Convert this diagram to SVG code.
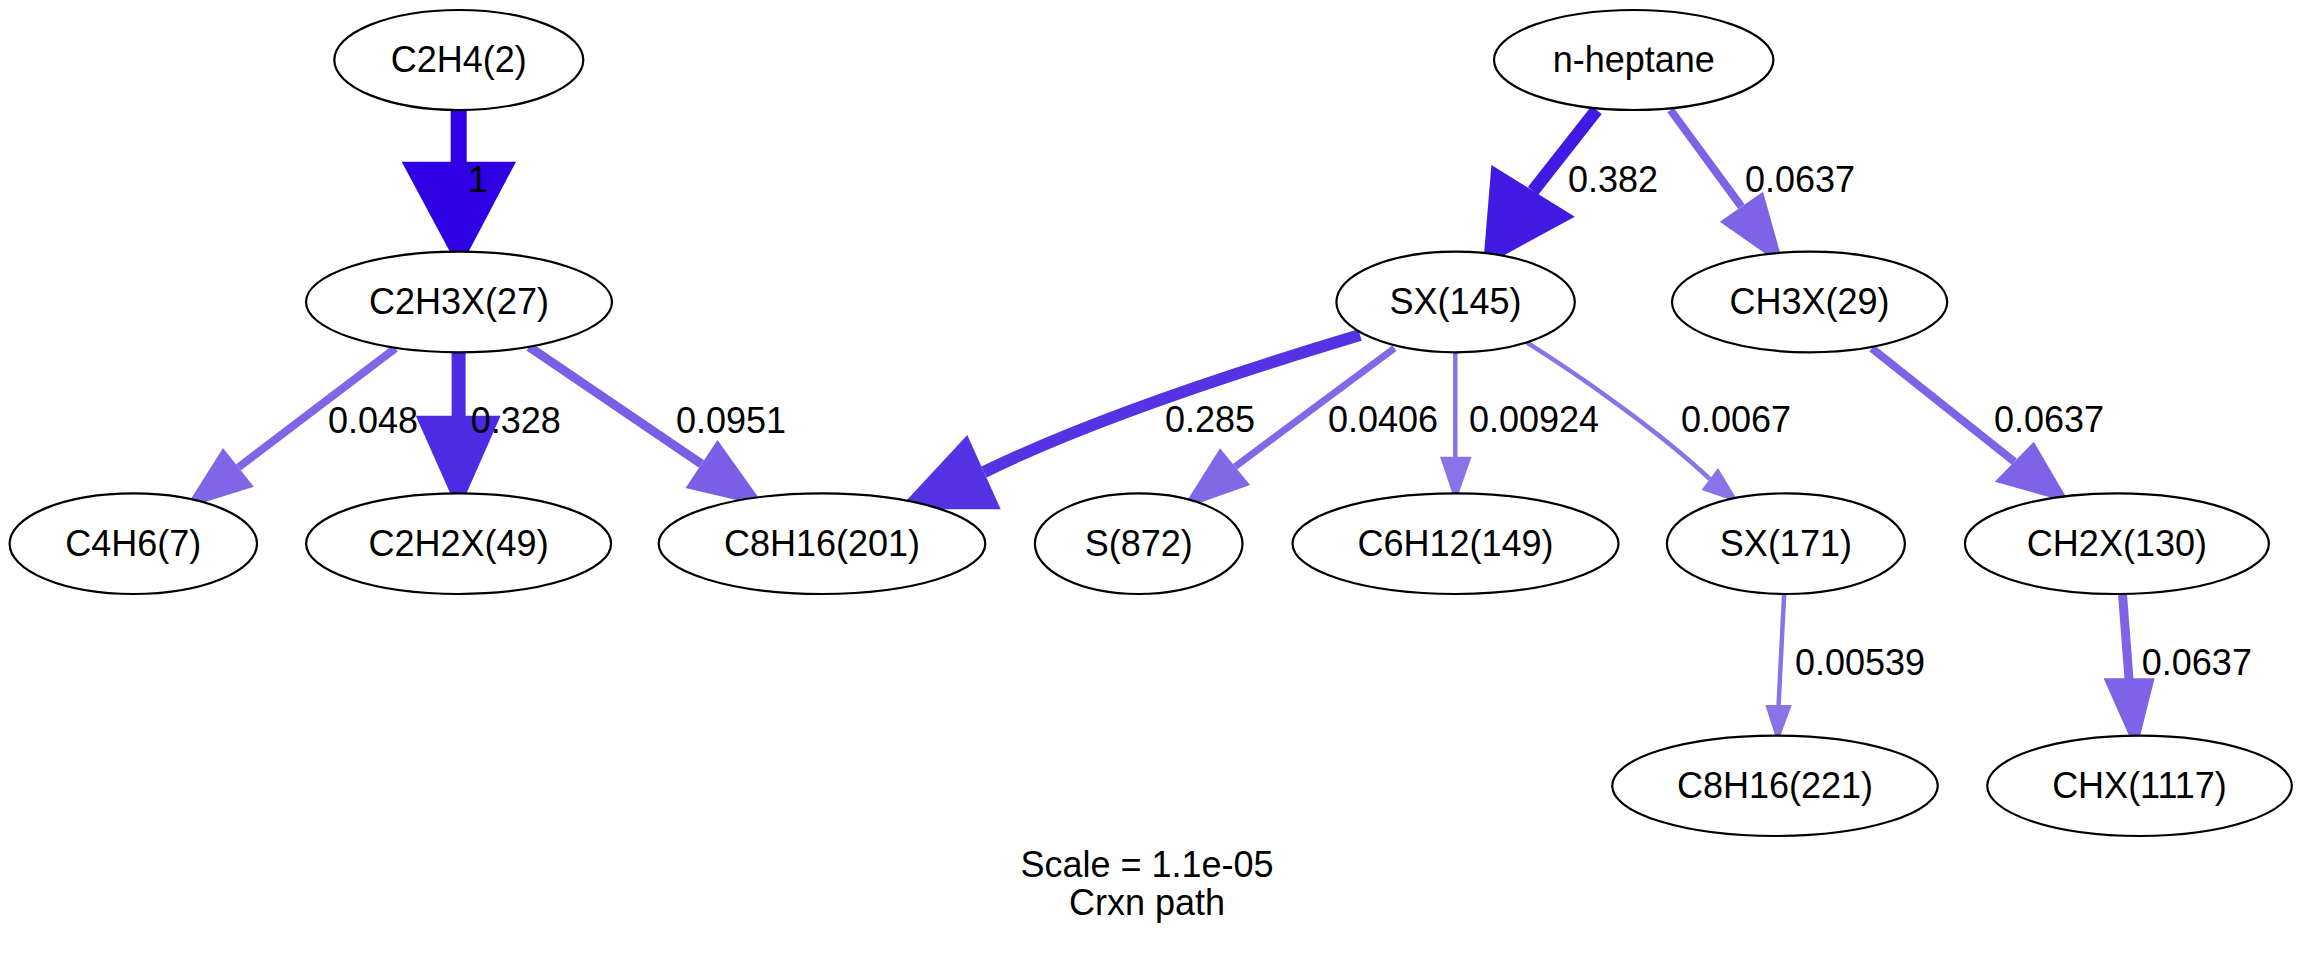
<svg xmlns="http://www.w3.org/2000/svg" width="2302" height="953" viewBox="0 0 2302 953">
  <style>
    .node ellipse { fill: #ffffff; stroke: #000000; stroke-width: 2.2; }
    .node text { font-family: "Liberation Sans", Arial, Helvetica, sans-serif; font-size: 36px; text-anchor: middle; fill: #000000; }
    .edge path { fill: none; stroke-linecap: butt; }
    .lbl { font-family: "Liberation Sans", Arial, Helvetica, sans-serif; font-size: 36px; fill: #000000; }
    .title { font-family: "Liberation Sans", Arial, Helvetica, sans-serif; font-size: 36px; text-anchor: middle; fill: #000000; }
  </style>
  <rect x="0" y="0" width="2302" height="953" fill="#ffffff"/>

  <!-- connectors -->
  <g id="edges">
    <!-- C2H4(2) -> C2H3X(27) -->
    <g class="edge" id="e_c2h4_c2h3x">
      <path d="M458.7,110 L458.7,162" stroke="#2f00e4" stroke-width="16"/>
      <polygon points="401.7,161.7 516,161.7 459.3,269.3" fill="#2f00e4"/>
      <text class="lbl" x="478" y="191.7" text-anchor="middle">1</text>
    </g>
    <!-- C2H3X(27) -> C4H6(7) -->
    <g class="edge" id="e_c2h3x_c4h6">
      <path d="M395.4,348.3 L238.4,467.4" stroke="#8066e7" stroke-width="8"/>
      <polygon points="223,448 253.8,486.7 185,508.3" fill="#8066e7"/>
      <text class="lbl" x="328" y="433">0.048</text>
    </g>
    <!-- C2H3X(27) -> C2H2X(49) -->
    <g class="edge" id="e_c2h3x_c2h2x">
      <path d="M458.6,352 L458.6,416" stroke="#4d2ae3" stroke-width="14"/>
      <polygon points="415.8,415.7 500.6,415.7 458.4,511.7" fill="#4d2ae3"/>
      <text class="lbl" x="470.7" y="433">0.328</text>
    </g>
    <!-- C2H3X(27) -> C8H16(201) -->
    <g class="edge" id="e_c2h3x_c8h16_201">
      <path d="M529,346.7 L701.5,464" stroke="#7a5fe6" stroke-width="9"/>
      <polygon points="685.6,488 717.5,440 765,506.7" fill="#7a5fe6"/>
      <text class="lbl" x="676" y="433">0.0951</text>
    </g>
    <!-- n-heptane -> SX(145) -->
    <g class="edge" id="e_heptane_sx145">
      <path d="M1596.6,110 L1533,191" stroke="#4219e2" stroke-width="13"/>
      <polygon points="1491.4,165 1574.8,216.7 1483,266.7" fill="#4219e2"/>
      <text class="lbl" x="1568" y="191.7">0.382</text>
    </g>
    <!-- n-heptane -> CH3X(29) -->
    <g class="edge" id="e_heptane_ch3x">
      <path d="M1670.5,110 L1741.4,206.7" stroke="#7e63e6" stroke-width="8"/>
      <polygon points="1719.8,221.7 1763,191.7 1784,266.7" fill="#7e63e6"/>
      <text class="lbl" x="1745" y="191.7">0.0637</text>
    </g>
    <!-- SX(145) -> C8H16(201) -->
    <g class="edge" id="e_sx145_c8h16_201">
      <path d="M1360,335 C1250,368 1090,420 984,472" stroke="#5533e4" stroke-width="12"/>
      <polygon points="967.3,435 1000.7,509.3 898.3,509.3" fill="#5533e4"/>
      <text class="lbl" x="1165" y="431.7">0.285</text>
    </g>
    <!-- SX(145) -> S(872) -->
    <g class="edge" id="e_sx145_s872">
      <path d="M1394.4,348.3 L1235,466.7" stroke="#8068e7" stroke-width="7"/>
      <polygon points="1220,448.3 1250,485 1181.7,509.3" fill="#8068e7"/>
      <text class="lbl" x="1328" y="431.7">0.0406</text>
    </g>
    <!-- SX(145) -> C6H12(149) -->
    <g class="edge" id="e_sx145_c6h12">
      <path d="M1455.3,352 L1455.3,457" stroke="#8a72e8" stroke-width="4.5"/>
      <polygon points="1440,456.7 1471.6,456.7 1455.5,502.7" fill="#8a72e8"/>
      <text class="lbl" x="1469" y="431.7">0.00924</text>
    </g>
    <!-- SX(145) -> SX(171) -->
    <g class="edge" id="e_sx145_sx171">
      <path d="M1525.6,341.7 C1580,376 1660,432 1709.8,479" stroke="#8a72e8" stroke-width="4.5"/>
      <polygon points="1701.6,490 1718,468 1739,502.7" fill="#8a72e8"/>
      <text class="lbl" x="1681" y="431.7">0.0067</text>
    </g>
    <!-- CH3X(29) -> CH2X(130) -->
    <g class="edge" id="e_ch3x_ch2x">
      <path d="M1871.9,348.3 L2014.3,461.7" stroke="#7e63e6" stroke-width="8"/>
      <polygon points="1994.8,481.7 2033.8,441.7 2069.5,502.7" fill="#7e63e6"/>
      <text class="lbl" x="1994" y="431.7">0.0637</text>
    </g>
    <!-- SX(171) -> C8H16(221) -->
    <g class="edge" id="e_sx171_c8h16_221">
      <path d="M1784.2,593 L1778.6,705" stroke="#8a72e8" stroke-width="4.5"/>
      <polygon points="1765.3,705 1791.8,705 1777.6,743.3" fill="#8a72e8"/>
      <text class="lbl" x="1795" y="675">0.00539</text>
    </g>
    <!-- CH2X(130) -> CHX(1117) -->
    <g class="edge" id="e_ch2x_chx">
      <path d="M2122.4,593 L2129,679" stroke="#7e63e6" stroke-width="9"/>
      <polygon points="2103.6,678.3 2154.6,678.3 2136.2,751.7" fill="#7e63e6"/>
      <text class="lbl" x="2141.8" y="675">0.0637</text>
    </g>
  </g>

  <!-- species nodes -->
  <g id="n_c2h4" class="node"><ellipse cx="458.8" cy="60" rx="124.5" ry="50"/><text x="458.8" y="72">C2H4(2)</text></g>
  <g id="n_c2h3x" class="node"><ellipse cx="459" cy="302" rx="153" ry="50.3"/><text x="459" y="314">C2H3X(27)</text></g>
  <g id="n_c4h6" class="node"><ellipse cx="133.3" cy="543.7" rx="123.7" ry="50.3"/><text x="133.3" y="556">C4H6(7)</text></g>
  <g id="n_c2h2x" class="node"><ellipse cx="458.6" cy="543.7" rx="152.5" ry="50.3"/><text x="458.6" y="556">C2H2X(49)</text></g>
  <g id="n_c8h16_201" class="node"><ellipse cx="822" cy="543.7" rx="163.3" ry="50.3"/><text x="822" y="556">C8H16(201)</text></g>
  <g id="n_heptane" class="node"><ellipse cx="1633.7" cy="60" rx="139.7" ry="50"/><text x="1633.7" y="72">n-heptane</text></g>
  <g id="n_sx145" class="node"><ellipse cx="1455.6" cy="302" rx="119.2" ry="50.3"/><text x="1455.6" y="314">SX(145)</text></g>
  <g id="n_ch3x" class="node"><ellipse cx="1809.6" cy="302" rx="137.6" ry="50.3"/><text x="1809.6" y="314">CH3X(29)</text></g>
  <g id="n_s872" class="node"><ellipse cx="1138.7" cy="543.7" rx="103.8" ry="50.3"/><text x="1138.7" y="556">S(872)</text></g>
  <g id="n_c6h12" class="node"><ellipse cx="1455.5" cy="543.7" rx="163" ry="50.3"/><text x="1455.5" y="556">C6H12(149)</text></g>
  <g id="n_sx171" class="node"><ellipse cx="1785.9" cy="543.7" rx="119" ry="50.3"/><text x="1785.9" y="556">SX(171)</text></g>
  <g id="n_ch2x" class="node"><ellipse cx="2116.9" cy="543.7" rx="152" ry="50.3"/><text x="2116.9" y="556">CH2X(130)</text></g>
  <g id="n_c8h16_221" class="node"><ellipse cx="1775" cy="785.8" rx="162.8" ry="50.2"/><text x="1775" y="798">C8H16(221)</text></g>
  <g id="n_chx" class="node"><ellipse cx="2139.5" cy="785.8" rx="152.3" ry="50.2"/><text x="2139.5" y="798">CHX(1117)</text></g>

  <!-- graph caption -->
  <g id="caption">
    <text class="title" x="1147" y="876.7">Scale = 1.1e-05</text>
    <text class="title" x="1147" y="915">Crxn path</text>
  </g>
</svg>
